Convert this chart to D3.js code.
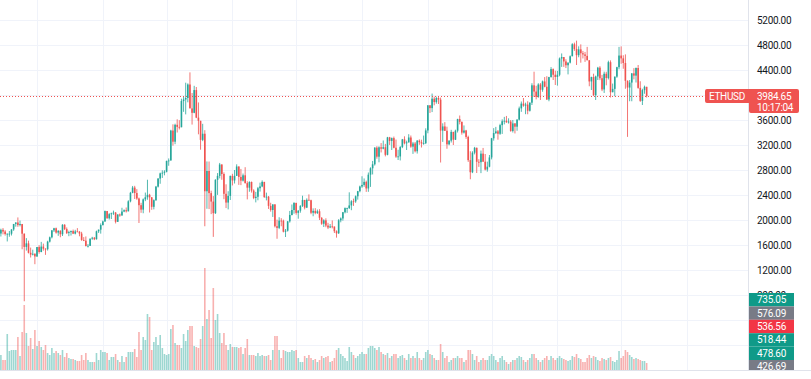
<!DOCTYPE html>
<html>
<head>
<meta charset="utf-8">
<script src="https://cdn.jsdelivr.net/npm/d3@7"></script>
<style>
  body { margin: 0; background: #ffffff; }
  svg { display: block; font-family: Roboto, "Liberation Sans", sans-serif; }
</style>
</head>
<body>
<svg id="chart" width="811" height="379"></svg>
<script>
// ETHUSD daily candles, 12 Feb 2021 .. 13 Dec 2021
const firstDay = "2021-02-12";

const open = [
  1784,1843,1815,1776,1781,1781,1849,1937,1960,1919,1935,1781,1570,1626,1475,1446,1459,
  1417,1567,1488,1575,1541,1533,1654,1723,1834,1868,1799,1826,1772,1924,1854,1791,1806,1823,1782,1817,1812,1783,1681,1669,1582,1587,1702,1716,1692,1819,1846,
  1919,1977,2143,2028,2093,2107,2118,1971,2088,2072,2135,2157,2139,2299,2435,2519,2431,2344,2237,2166,2330,2364,2403,2363,2211,2317,2534,2663,2746,2756,
  2773,2945,2952,3431,3253,3523,3490,3484,3903,3928,3952,4168,3785,3715,4079,3638,3587,3282,3380,2460,2784,2430,2295,2109,2643,2706,2888,2736,2419,2279,2386,
  2706,2633,2706,2856,2689,2630,2715,2590,2517,2608,2471,2353,2372,2508,2537,2610,2367,2373,2226,2160,2249,1900,1874,1990,1989,1813,1829,1978,2080,2160,
  2274,2114,2150,2226,2321,2198,2323,2316,2116,2146,2111,2140,2036,1940,1994,1911,1880,1898,1895,1820,1787,1995,2025,2124,2190,2191,2233,2299,2298,2380,2461,
  2536,2561,2610,2505,2725,2827,2891,3158,3013,3163,3141,3164,3043,3322,3265,3310,3156,3014,3017,3167,3290,3227,3242,3320,3174,3224,3100,3269,3245,3225,3229,
  3433,3834,3790,3941,3887,3952,3926,3431,3497,3427,3211,3270,3410,3285,3429,3615,3571,3398,3432,3329,2958,2764,3077,3155,2931,2925,3062,2933,2807,2853,
  3001,3307,3391,3418,3380,3518,3580,3587,3563,3575,3425,3545,3493,3606,3786,3862,3830,3847,3748,3877,4155,4055,3971,4168,4084,4217,4132,3928,4286,4414,4324,
  4288,4324,4584,4607,4537,4476,4518,4620,4812,4735,4637,4730,4668,4649,4626,4556,4217,4287,3997,4297,4437,4268,4089,4340,4271,4525,4044,4098,4294,4445,
  4631,4586,4512,4227,4119,4199,4346,4310,4432,4114,3906,4078,4131
];
const high = [
  1861,1871,1838,1784,1824,1852,1936,1962,2041,1991,1937,1785,1710,1670,1559,1525,1468,
  1568,1597,1650,1622,1548,1668,1735,1838,1875,1879,1838,1837,1933,1933,1881,1829,1832,1847,1843,1870,1823,1811,1726,1737,1615,1702,1731,1728,1830,1846,1946,
  1990,2151,2145,2110,2118,2150,2128,2092,2104,2196,2170,2200,2316,2450,2545,2547,2494,2359,2275,2345,2439,2644,2419,2366,2330,2545,2670,2758,2795,2796,
  2950,2985,3443,3531,3541,3611,3597,3941,3970,4197,4186,4362,4032,4147,4128,3881,3587,3539,3437,2937,2936,2469,2383,2652,2751,2913,2891,2762,2571,2460,2710,
  2739,2800,2891,2858,2817,2743,2845,2620,2620,2616,2491,2450,2529,2598,2634,2610,2438,2384,2276,2253,2254,2006,2044,2029,2006,1856,1985,2145,2248,2283,
  2274,2156,2237,2389,2321,2346,2410,2325,2186,2190,2167,2173,2044,2012,2027,1955,1936,1993,1897,1835,2014,2041,2129,2201,2197,2443,2317,2342,2393,2466,2550,
  2700,2665,2630,2760,2843,2945,3164,3181,3179,3231,3272,3218,3330,3330,3320,3335,3287,3124,3183,3297,3339,3270,3373,3352,3249,3248,3280,3290,3285,3351,3467,
  3840,3840,4023,3973,3973,3970,3959,3547,3566,3493,3275,3443,3410,3445,3620,3672,3574,3513,3442,3349,3100,3100,3170,3159,2973,3111,3153,3056,2934,3040,
  3314,3470,3490,3440,3540,3611,3650,3665,3627,3600,3600,3550,3612,3815,3896,3952,3877,3900,3882,4188,4373,4148,4189,4191,4231,4287,4301,4291,4446,4425,4388,
  4386,4600,4665,4607,4572,4520,4633,4829,4838,4870,4779,4810,4705,4689,4770,4556,4293,4341,4310,4450,4461,4322,4374,4372,4549,4554,4183,4295,4452,4770,
  4778,4636,4650,4234,4240,4350,4430,4440,4480,4220,4100,4150,4131
];
const low = [
  1736,1770,1751,1657,1732,1752,1827,1893,1891,1898,1532,700,1511,1465,1400,1433,1293,
  1409,1461,1484,1509,1442,1512,1640,1706,1808,1782,1747,1724,1744,1840,1776,1741,1751,1775,1770,1806,1740,1667,1662,1580,1560,1584,1683,1678,1687,1793,1782,
  1912,1970,2020,2007,2016,2082,1945,1968,2052,2070,2125,2120,2138,2283,2428,2336,2323,1952,2115,2108,2302,2324,2120,2163,2170,2306,2520,2580,2673,2715,
  2762,2868,2952,3190,3213,3400,3449,3484,3731,3690,3883,3790,3527,3708,3630,3371,3125,3262,1900,2180,2175,2094,1730,2097,2402,2666,2644,2333,2191,2170,2320,
  2553,2584,2706,2562,2558,2616,2584,2330,2452,2439,2333,2282,2316,2455,2525,2354,2314,2177,2134,2049,1881,1700,1855,1900,1802,1728,1815,1958,2073,2101,
  2085,2021,2117,2209,2170,2191,2310,2093,2060,2092,2097,2000,1923,1888,1885,1855,1870,1866,1792,1718,1777,1963,1990,2106,2114,2176,2157,2226,2275,2326,2443,
  2515,2532,2450,2451,2530,2729,2871,2981,2923,3081,3131,3018,3035,3201,3120,3147,2994,2960,2953,3150,3210,3120,3240,3155,3058,3081,3063,3203,3160,3204,3215,
  3388,3713,3727,3835,3861,3856,2920,3250,3424,3140,3196,3240,3200,3280,3400,3530,3366,3383,3298,2930,2652,2750,3050,2752,2850,2750,2931,2793,2773,2843,
  2970,3270,3375,3285,3363,3377,3530,3555,3543,3412,3400,3385,3428,3593,3731,3812,3693,3692,3735,3840,3968,3930,3956,3921,4052,4123,3920,3900,4280,4240,4160,
  4150,4300,4450,4450,4431,4330,4505,4620,4706,4480,4604,4517,4585,4530,4555,4140,4080,3983,3920,4240,4238,4062,4033,4155,4249,3961,4044,3980,4275,4411,
  4500,4420,4100,3330,3900,3900,4250,4200,4100,3890,3840,4020,3960
];
const close = [
  1843,1815,1776,1781,1781,1849,1937,1960,1919,1935,1781,1570,1626,1475,1446,1459,1417,
  1567,1488,1575,1541,1533,1654,1723,1834,1868,1799,1826,1772,1924,1854,1791,1806,1823,1782,1817,1812,1783,1681,1669,1582,1587,1702,1716,1692,1819,1846,1919,
  1977,2143,2028,2093,2107,2118,1971,2088,2072,2135,2157,2139,2299,2435,2519,2431,2344,2237,2166,2330,2364,2403,2363,2211,2317,2534,2663,2746,2756,2773,
  2945,2952,3431,3253,3523,3490,3484,3903,3928,3952,4168,3785,3715,4079,3638,3587,3282,3380,2460,2784,2430,2295,2109,2643,2706,2888,2736,2419,2279,2386,2706,
  2633,2706,2856,2689,2630,2715,2590,2517,2608,2471,2353,2372,2508,2537,2610,2367,2373,2226,2160,2249,1900,1874,1990,1989,1813,1829,1978,2080,2160,2274,
  2114,2150,2226,2321,2198,2323,2316,2116,2146,2111,2140,2036,1940,1994,1911,1880,1898,1895,1820,1787,1995,2025,2124,2190,2191,2233,2299,2298,2380,2461,2536,
  2561,2610,2505,2725,2827,2891,3158,3013,3163,3141,3164,3043,3322,3265,3310,3156,3014,3017,3167,3290,3227,3242,3320,3174,3224,3100,3269,3245,3225,3229,3433,
  3834,3790,3941,3887,3952,3926,3431,3497,3427,3211,3270,3410,3285,3429,3615,3571,3398,3432,3329,2958,2764,3077,3155,2931,2925,3062,2933,2807,2853,3001,
  3307,3391,3418,3380,3518,3580,3587,3563,3575,3425,3545,3493,3606,3786,3862,3830,3847,3748,3877,4155,4055,3971,4168,4084,4217,4132,3928,4286,4414,4324,4288,
  4324,4584,4607,4537,4476,4518,4620,4812,4735,4637,4730,4668,4649,4626,4556,4217,4287,3997,4297,4437,4268,4089,4340,4271,4525,4044,4098,4294,4445,4631,
  4586,4512,4227,4119,4199,4346,4310,4432,4114,3906,4078,4131,3984.65
];
// volume, in 10K ETH
const volume = [
  15,10,10,36,19,20,20,20,33,14,38,65,37,24,32,21,40,
  24,29,23,20,25,17,15,22,17,19,17,15,20,13,17,12,11,11,10,9,9,15,10,17,10,8,8,8,17,10,20,
  18,18,17,10,13,13,16,10,8,14,8,13,18,18,18,21,13,38,20,33,30,56,53,20,28,33,25,35,22,16,
  15,16,41,45,27,25,25,22,36,29,40,44,44,24,23,22,31,44,102,51,60,32,82,50,56,37,27,37,25,20,26,
  23,23,23,22,23,16,22,31,15,15,15,14,17,14,15,14,14,15,10,20,34,34,20,12,20,19,18,18,20,19,
  20,12,8,8,14,12,15,12,10,11,8,10,14,12,13,14,8,9,12,20,22,16,14,12,9,23,18,15,12,14,16,
  18,16,16,22,24,24,22,20,23,18,16,15,17,12,14,16,16,12,14,15,12,10,16,12,14,12,18,12,10,12,18,
  20,16,15,12,10,10,26,18,12,14,8,10,12,12,14,12,12,8,10,20,20,16,10,14,8,10,12,10,10,14,
  16,14,10,8,12,14,10,8,6,8,10,10,12,14,13,10,8,10,12,16,16,12,10,8,10,12,14,10,14,12,10,
  12,14,12,11,10,9,10,14,13,16,12,11,8,8,12,15,12,14,13,10,9,12,11,10,12,13,9,8,10,19,
  12,14,20,18,15,13,11,12,11,10,9,9,7
];

const priceTicks = [0,400,800,1200,1600,2000,2400,2800,3200,3600,4000,4400,4800,5200,5600];
const symbol = "ETHUSD";
const lastPrice = 3984.65;
const countdown = "10:17:04";
const sideValues = ["735.05","576.09","536.56","518.44","478.60","426.69"];
const sideColors = ["#0f9a88","#787b86","#f23645","#0f9a88","#0f9a88","#787b86"];

const UP = "#26a69a", DOWN = "#ef5350";
const W = 811, H = 379, paneW = 748, paneH = 370;
const boxTop = 293, boxH = 13.4;

const svg = d3.select("#chart");
const day0 = d3.utcParse("%Y-%m-%d")(firstDay);
const data = close.map((c, i) => ({
  date: d3.utcDay.offset(day0, i),
  o: open[i], h: high[i], l: low[i], c: c, v: volume[i]
}));

const x = d3.scaleUtc()
  .domain([new Date(Date.UTC(2021, 2, 1)), new Date(Date.UTC(2022, 0, 1))])
  .range([37, 687]);
const y = d3.scaleLinear().domain([800, 5200]).range([295, 20]);
const yv = d3.scaleLinear().domain([0, 100]).range([paneH, paneH - 100]);

const defs = svg.append("defs");
defs.append("clipPath").attr("id", "pane")
  .append("rect").attr("x", 0).attr("y", 0).attr("width", paneW).attr("height", paneH);
defs.append("clipPath").attr("id", "scaleclip")
  .append("rect").attr("x", paneW).attr("y", 0).attr("width", W - paneW).attr("height", paneH);
defs.append("clipPath").attr("id", "labelclip")
  .append("rect").attr("x", paneW).attr("y", 0).attr("width", W - paneW).attr("height", boxTop);

const grid = svg.append("g").attr("clip-path", "url(#pane)");
grid.selectAll(".hg").data(priceTicks).join("line")
  .attr("x1", 0).attr("x2", paneW)
  .attr("y1", d => Math.round(y(d)) + 0.5).attr("y2", d => Math.round(y(d)) + 0.5)
  .attr("stroke", "#f0f3fa");
grid.selectAll(".vg").data(x.ticks(d3.utcMonth.every(1))).join("line")
  .attr("x1", d => Math.round(x(d)) + 0.5).attr("x2", d => Math.round(x(d)) + 0.5)
  .attr("y1", 0).attr("y2", paneH)
  .attr("stroke", "#f0f3fa");

const plot = svg.append("g").attr("clip-path", "url(#pane)");
const bw = 1.6;

// volume
plot.append("g").selectAll("rect").data(data).join("rect")
  .attr("x", d => x(d.date) - bw / 2)
  .attr("width", bw)
  .attr("y", d => yv(d.v))
  .attr("height", d => yv(0) - yv(d.v))
  .attr("fill", d => d.c >= d.o ? UP : DOWN)
  .attr("fill-opacity", 0.45);

// candles
const candle = plot.append("g").selectAll("g").data(data).join("g")
  .attr("fill", d => d.c >= d.o ? UP : DOWN)
  .attr("stroke", d => d.c >= d.o ? UP : DOWN);
candle.append("line")
  .attr("x1", d => x(d.date)).attr("x2", d => x(d.date))
  .attr("y1", d => y(d.h)).attr("y2", d => y(d.l))
  .attr("stroke-width", 0.8);
candle.append("rect")
  .attr("stroke", "none")
  .attr("x", d => x(d.date) - bw / 2)
  .attr("width", bw)
  .attr("y", d => y(Math.max(d.o, d.c)))
  .attr("height", d => Math.max(0.8, Math.abs(y(d.o) - y(d.c))));

// last price line
const ly = Math.round(y(lastPrice)) + 0.5;
svg.append("line")
  .attr("x1", 0).attr("x2", 705).attr("y1", ly).attr("y2", ly)
  .attr("stroke", DOWN).attr("stroke-width", 1).attr("stroke-dasharray", "1,2");

// borders
svg.append("line").attr("x1", paneW + 0.5).attr("x2", paneW + 0.5).attr("y1", 0).attr("y2", paneH)
  .attr("stroke", "#e0e3eb");
svg.append("line").attr("x1", 0).attr("x2", W).attr("y1", paneH + 0.5).attr("y2", paneH + 0.5)
  .attr("stroke", "#e0e3eb");

// price scale labels (the lowest ones sit under the indicator boxes)
svg.append("g").attr("clip-path", "url(#labelclip)")
  .selectAll("text").data(priceTicks.filter(d => y(d) > 8 && y(d) - 4 < boxTop)).join("text")
  .attr("x", 757).attr("y", d => y(d)).attr("dy", "0.35em")
  .attr("font-size", 10).attr("letter-spacing", -0.3)
  .attr("fill", "#131722")
  .text(d => d3.format(".2f")(d));

// indicator value boxes on the scale
const sb = svg.append("g").attr("clip-path", "url(#scaleclip)").selectAll("g")
  .data(sideValues).join("g")
  .attr("transform", (d, i) => `translate(${paneW + 1},${boxTop + i * boxH})`);
sb.append("rect").attr("width", 45).attr("height", boxH)
  .attr("fill", (d, i) => sideColors[i]);
sb.append("text").attr("x", 22.5).attr("y", boxH / 2).attr("dy", "0.35em")
  .attr("text-anchor", "middle").attr("font-size", 10).attr("letter-spacing", -0.3)
  .attr("fill", "#ffffff").text(d => d);

// symbol + last price label
const lb = svg.append("g");
lb.append("path")
  .attr("d", `M705,91 a2,2 0 0 1 2,-2 H797 a2,2 0 0 1 2,2 V111 a2,2 0 0 1 -2,2 H751 a2,2 0 0 1 -2,-2 V103 H707 a2,2 0 0 1 -2,-2 Z`)
  .attr("fill", DOWN);
lb.append("text").attr("x", 727).attr("y", 96).attr("dy", "0.35em")
  .attr("text-anchor", "middle").attr("font-size", 10).attr("letter-spacing", -0.3)
  .attr("fill", "#ffffff").text(symbol);
lb.append("text").attr("x", 757).attr("y", 96).attr("dy", "0.35em")
  .attr("font-size", 10).attr("letter-spacing", -0.3)
  .attr("fill", "#ffffff").text(d3.format(".2f")(lastPrice));
lb.append("text").attr("x", 757).attr("y", 107).attr("dy", "0.35em")
  .attr("font-size", 10).attr("letter-spacing", -0.3)
  .attr("fill", "#ffffff").text(countdown);
</script>
</body>
</html>
